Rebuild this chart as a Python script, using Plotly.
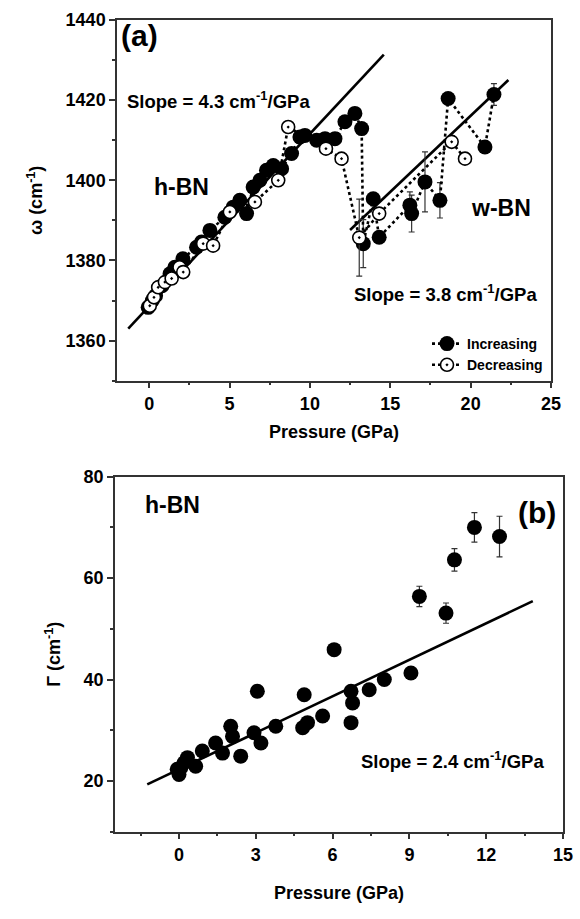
import plotly.graph_objects as go

# ---------------- Panel (a): Raman shift vs pressure ----------------
inc_p = [-0.06, 0.2, 0.4, 0.8, 1.3, 1.6, 2.1, 2.95, 3.26, 3.78, 4.71, 5.23, 5.64, 6.06,
         6.47, 6.89, 7.3, 7.72, 8.24, 8.86, 9.38, 9.69, 10.42, 10.94, 11.56, 12.18, 12.8,
         13.22, 13.32, 13.94, 14.31, 16.22, 16.33, 17.16, 18.09, 18.6, 20.89, 21.45]
inc_w = [1368.3, 1370.0, 1371.2, 1373.7, 1376.7, 1378.3, 1380.4, 1383.3, 1384.6, 1387.5,
         1390.8, 1393.3, 1395.0, 1391.7, 1398.3, 1400.0, 1402.5, 1403.7, 1402.9, 1406.7,
         1410.8, 1411.2, 1410.0, 1410.4, 1410.4, 1414.6, 1416.7, 1412.9, 1384.2, 1395.4,
         1385.8, 1393.8, 1391.7, 1399.6, 1395.0, 1420.4, 1408.3, 1421.4]
inc_err = [0, 0, 0, 0, 0, 0, 0, 0, 0, 0, 0, 0, 0, 0, 0, 0, 0, 0, 0, 0, 0, 0, 0, 0, 0, 0, 0,
           0, 6.0, 0, 1.0, 3.3, 4.6, 7.5, 4.4, 0, 0, 2.7]

dec_p = [0.04, 0.3, 0.56, 0.98, 1.4, 1.89, 2.12, 3.36, 3.98, 5.02, 6.58, 8.03, 8.65,
         11.0, 11.97, 13.07, 14.31, 18.82, 19.65]
dec_w = [1368.7, 1370.8, 1373.3, 1374.6, 1375.5, 1378.3, 1377.1, 1384.2, 1383.7, 1392.1,
         1394.6, 1400.0, 1413.3, 1407.9, 1405.4, 1385.7, 1391.7, 1409.6, 1405.4]
dec_err = [0, 0, 0, 0, 0, 0, 0, 0, 0, 0, 0, 0, 0, 0, 0, 9.6, 1.0, 0.8, 0]

# linear fits (slope, intercept, x-start, x-end)
hbn_fit = dict(slope=4.3, intercept=1368.6, x0=-1.3, x1=14.6)
wbn_fit = dict(slope=3.8, intercept=1340.1, x0=12.5, x1=22.35)

# ---------------- Panel (b): linewidth vs pressure ----------------
g_p = [-0.07, 0.0, 0.07, 0.2, 0.33, 0.65, 0.91, 1.43, 1.7, 2.02, 2.09, 2.41, 2.93, 3.06,
       3.2, 3.78, 4.83, 4.89, 5.02, 5.61, 6.06, 6.72, 6.72, 6.78, 7.43, 8.02, 9.06, 9.39,
       10.43, 10.76, 11.54, 12.52]
g_w = [22.3, 21.3, 22.6, 23.6, 24.6, 22.9, 25.9, 27.5, 25.5, 30.8, 28.8, 24.9, 29.5, 37.7,
       27.5, 30.8, 30.5, 37.0, 31.5, 32.8, 45.9, 37.7, 31.5, 35.4, 38.0, 40.0, 41.3, 56.4,
       53.1, 63.6, 70.0, 68.2]
g_err = [0] * 27 + [2.0, 2.0, 2.2, 2.9, 4.0]
g_fit = dict(slope=2.4, intercept=22.3, x0=-1.24, x1=13.82)

FONT = "Liberation Sans, Arial, sans-serif"
AX = "#333333"


def fit_xy(f):
    xs = [f["x0"], f["x1"]]
    return xs, [f["intercept"] + f["slope"] * x for x in xs]


fig = go.Figure()

# fits in (a)
for f in (hbn_fit, wbn_fit):
    fx, fy = fit_xy(f)
    fig.add_trace(go.Scatter(x=fx, y=fy, mode="lines", line=dict(color="black", width=2.6),
                             showlegend=False, hoverinfo="skip", xaxis="x", yaxis="y"))

fig.add_trace(go.Scatter(
    x=inc_p, y=inc_w, mode="lines+markers", name="Increasing",
    line=dict(color="black", width=2.6, dash="dot"),
    marker=dict(symbol="circle", size=15, color="black"),
    error_y=dict(type="data", array=inc_err, color="#333", thickness=1.2, width=3),
    xaxis="x", yaxis="y"))
fig.add_trace(go.Scatter(
    x=dec_p, y=dec_w, mode="lines+markers", name="Decreasing",
    line=dict(color="black", width=2.6, dash="dot"),
    marker=dict(symbol="circle-dot", size=13, color="white",
                line=dict(color="black", width=1.6)),
    error_y=dict(type="data", array=dec_err, color="#333", thickness=1.2, width=3),
    xaxis="x", yaxis="y"))

# (b)
fx, fy = fit_xy(g_fit)
fig.add_trace(go.Scatter(x=fx, y=fy, mode="lines", line=dict(color="black", width=2.6),
                         showlegend=False, hoverinfo="skip", xaxis="x2", yaxis="y2"))
fig.add_trace(go.Scatter(
    x=g_p, y=g_w, mode="markers", showlegend=False,
    marker=dict(symbol="circle", size=15, color="black"),
    error_y=dict(type="data", array=g_err, color="#333", thickness=1.2, width=3),
    xaxis="x2", yaxis="y2"))

tickf = dict(family=FONT, size=18, color="black", weight="bold")
titlef = dict(family=FONT, size=18, color="black", weight="bold")
common = dict(showline=True, linecolor=AX, linewidth=1.5, mirror=True, ticks="outside",
              ticklen=6, tickwidth=1.5, tickcolor=AX, showgrid=False, zeroline=False,
              tickfont=tickf, automargin=False, ticklabeloverflow="allow")

fig.update_layout(
    width=580, height=919, paper_bgcolor="white", plot_bgcolor="white",
    margin=dict(l=0, r=0, t=0, b=0),
    font=dict(family=FONT, color="black"),
    xaxis=dict(domain=[117 / 580, 551 / 580], range=[-2, 25], tick0=0, dtick=5,
               minor=dict(ticks="outside", dtick=2.5, ticklen=3, tickcolor=AX, tickwidth=1.5),
               title=dict(text="Pressure (GPa)", font=titlef, standoff=12),
               anchor="y", **common),
    yaxis=dict(domain=[1 - 380.7 / 919, 1 - 20 / 919], range=[1350, 1440], tick0=1360, dtick=20,
               minor=dict(ticks="outside", dtick=10, ticklen=3, tickcolor=AX, tickwidth=1.5),
               title=dict(text="ω (cm<sup>-1</sup>)", font=titlef, standoff=18),
               anchor="x", **common),
    xaxis2=dict(domain=[115 / 580, 563 / 580], range=[-2.5, 15], tick0=0, dtick=3,
                minor=dict(ticks="outside", dtick=1.5, ticklen=3, tickcolor=AX, tickwidth=1.5),
                title=dict(text="Pressure (GPa)", font=titlef, standoff=22),
                anchor="y2", **common),
    yaxis2=dict(domain=[1 - 831.7 / 919, 1 - 476.7 / 919], range=[10, 80], tick0=0, dtick=20,
                minor=dict(ticks="outside", dtick=10, ticklen=3, tickcolor=AX, tickwidth=1.5),
                title=dict(text="Γ (cm<sup>-1</sup>)", font=titlef, standoff=18),
                anchor="x2", **common),
    legend=dict(x=548 / 580, y=1 - 381 / 919, xanchor="right", yanchor="bottom",
                bgcolor="rgba(0,0,0,0)", font=dict(family=FONT, size=14, weight="bold"),
                itemwidth=30, tracegroupgap=0),
    showlegend=True,
)

ann = [
    dict(text="(a)", x=-1.85, y=1436.2, xref="x", yref="y", size=30),
    dict(text="Slope = 4.3 cm<sup>-1</sup>/GPa", x=-1.5, y=1420, xref="x", yref="y", size=18.5),
    dict(text="h-BN", x=0.2, y=1398.3, xref="x", yref="y", size=23),
    dict(text="w-BN", x=19.9, y=1393, xref="x", yref="y", size=23),
    dict(text="Slope = 3.8 cm<sup>-1</sup>/GPa", x=12.6, y=1371.8, xref="x", yref="y", size=18.5),
    dict(text="h-BN", x=-1.4, y=74.4, xref="x2", yref="y2", size=23),
    dict(text="(b)", x=13.15, y=73.0, xref="x2", yref="y2", size=30),
    dict(text="Slope = 2.4 cm<sup>-1</sup>/GPa", x=7.05, y=24.2, xref="x2", yref="y2", size=18.5),
]
for a in ann:
    fig.add_annotation(text=a["text"], x=a["x"], y=a["y"], xref=a["xref"], yref=a["yref"],
                       xanchor="left", yanchor="middle", showarrow=False,
                       font=dict(family=FONT, size=a["size"], color="black", weight="bold"))

fig.write_html(
    "out.html",
    config={"displayModeBar": False},
    post_script="document.body.style.margin='0px';document.body.style.padding='0px';"
                "document.body.style.overflow='hidden';"
                "document.documentElement.style.overflow='hidden';",
)
